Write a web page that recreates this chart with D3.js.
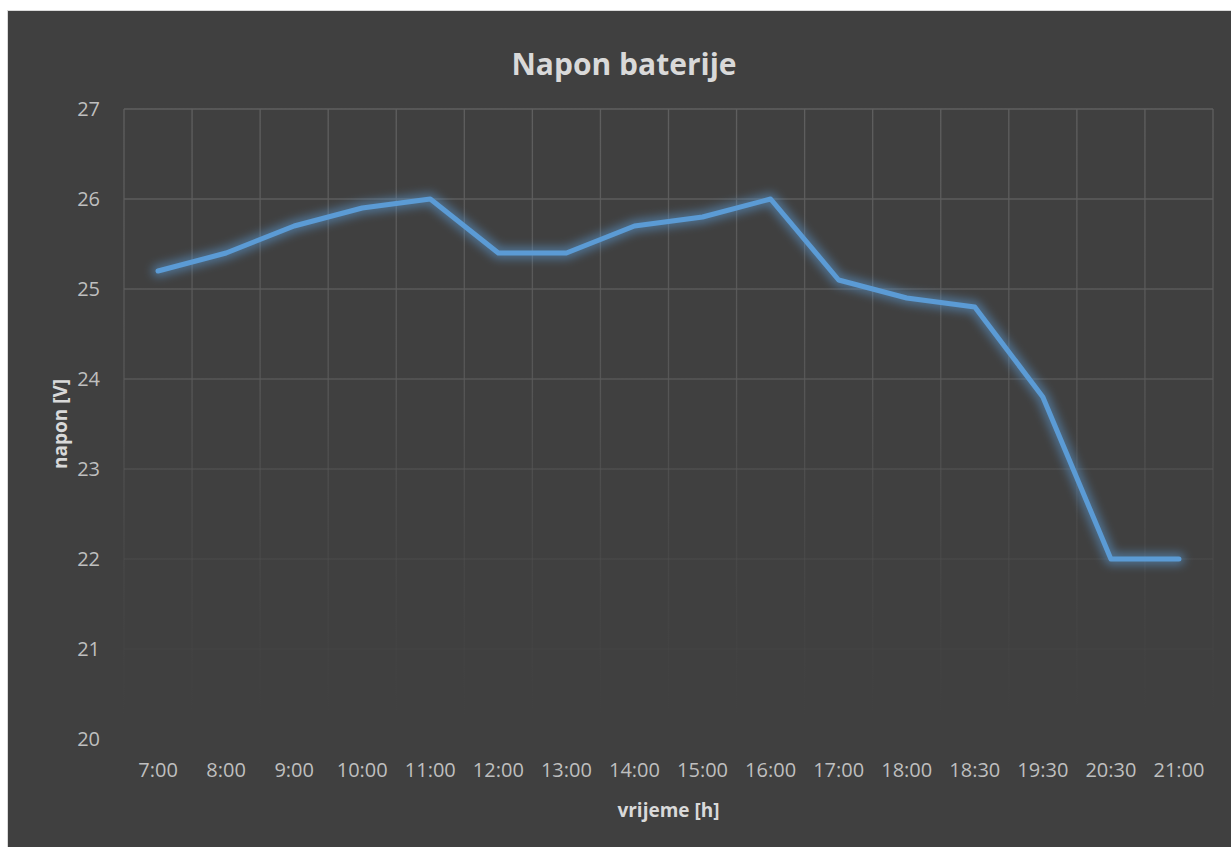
<!DOCTYPE html>
<html>
<head>
<meta charset="utf-8">
<script src="https://cdn.jsdelivr.net/npm/d3@7"></script>
<style>
  body { margin: 0; background: #fff; }
  svg text { font-family: "Open Sans", "Noto Sans", sans-serif; }
</style>
</head>
<body>
<div id="chart"></div>
<script>
// Napon baterije: battery voltage through the day
const times = ['7:00', '8:00', '9:00', '10:00', '11:00', '12:00', '13:00', '14:00',
  '15:00', '16:00', '17:00', '18:00', '18:30', '19:30', '20:30', '21:00'];
const volts = [25.2, 25.4, 25.7, 25.9, 26.0, 25.4, 25.4, 25.7,
  25.8, 26.0, 25.1, 24.9, 24.8, 23.8, 22.0, 22.0];
const yTicks = [20, 21, 22, 23, 24, 25, 26, 27];

const W = 1231, H = 847;
const m = { left: 124, right: 18, top: 109, bottom: 108 };

const svg = d3.select('#chart').append('svg')
  .attr('width', W).attr('height', H);

const defs = svg.append('defs');
// gridlines fade out toward the bottom of the plot
const grad = defs.append('linearGradient')
  .attr('id', 'gridFade').attr('gradientUnits', 'userSpaceOnUse')
  .attr('x1', 0).attr('x2', 0).attr('y1', m.top).attr('y2', 725);
grad.append('stop').attr('offset', 0).attr('stop-color', '#5f5f5f').attr('stop-opacity', 1);
grad.append('stop').attr('offset', 0.45).attr('stop-color', '#5a5a5a').attr('stop-opacity', 0.85);
grad.append('stop').attr('offset', 1).attr('stop-color', '#4a4a4a').attr('stop-opacity', 0);

const glow = defs.append('filter').attr('id', 'glow')
  .attr('x', '-10%').attr('y', '-10%').attr('width', '120%').attr('height', '120%');
glow.append('feGaussianBlur').attr('in', 'SourceGraphic').attr('stdDeviation', 5).attr('result', 'b');
glow.append('feComponentTransfer').attr('in', 'b').attr('result', 'b2')
  .append('feFuncA').attr('type', 'linear').attr('slope', 0.55);
const merge = glow.append('feMerge');
merge.append('feMergeNode').attr('in', 'b2');

svg.append('rect')
  .attr('x', 7.5).attr('y', 10.5).attr('width', W - 7).attr('height', H - 10)
  .attr('fill', '#404040').attr('stroke', '#d9d9d9').attr('stroke-width', 1);

const x = d3.scaleBand().domain(times).range([m.left, W - m.right]);
const y = d3.scaleLinear().domain([20, 27]).range([H - m.bottom, m.top]);

const grid = svg.append('g').attr('stroke', 'url(#gridFade)').attr('stroke-width', 1.3);
grid.selectAll('line.h').data(yTicks).join('line')
  .attr('class', 'h')
  .attr('x1', m.left).attr('x2', W - m.right)
  .attr('y1', d => y(d)).attr('y2', d => y(d));
grid.selectAll('line.v').data(times.concat(['end'])).join('line')
  .attr('class', 'v')
  .attr('x1', (d, i) => m.left + i * x.step()).attr('x2', (d, i) => m.left + i * x.step())
  .attr('y1', y(27)).attr('y2', y(20));

// axes (Excel style: labels only)
const yAxis = svg.append('g')
  .attr('transform', `translate(${m.left - 24},0)`)
  .call(d3.axisLeft(y).tickValues(yTicks).tickFormat(d3.format('d')).tickSize(0).tickPadding(0));
yAxis.select('.domain').remove();
yAxis.selectAll('text').attr('fill', '#bfbfbf').attr('font-size', 20).attr('dy', '0.34em');

const xAxis = svg.append('g')
  .attr('transform', `translate(0,${y(20)})`)
  .call(d3.axisBottom(x).tickSize(0).tickPadding(24));
xAxis.select('.domain').remove();
xAxis.selectAll('text').attr('fill', '#bfbfbf').attr('font-size', 20);

const line = d3.line()
  .x((d, i) => x(times[i]) + x.bandwidth() / 2)
  .y(d => y(d));

svg.append('path').datum(volts)
  .attr('d', line).attr('fill', 'none')
  .attr('stroke', '#5b9bd5').attr('stroke-width', 12)
  .attr('stroke-linejoin', 'round').attr('stroke-linecap', 'round')
  .attr('filter', 'url(#glow)');
svg.append('path').datum(volts)
  .attr('d', line).attr('fill', 'none')
  .attr('stroke', '#5b9bd5').attr('stroke-width', 5)
  .attr('stroke-linejoin', 'round').attr('stroke-linecap', 'round');

svg.append('text')
  .attr('x', 624).attr('y', 75).attr('text-anchor', 'middle')
  .attr('fill', '#d9d9d9').attr('font-size', 30).attr('font-weight', 700)
  .text('Napon baterije');

svg.append('text')
  .attr('transform', `translate(67,${(y(20) + y(27)) / 2}) rotate(-90)`)
  .attr('text-anchor', 'middle')
  .attr('fill', '#d9d9d9').attr('font-size', 19).attr('font-weight', 700)
  .text('napon [V]');

svg.append('text')
  .attr('x', (m.left + W - m.right) / 2).attr('y', 817).attr('text-anchor', 'middle')
  .attr('fill', '#d9d9d9').attr('font-size', 19).attr('font-weight', 700)
  .text('vrijeme [h]');
</script>
</body>
</html>
